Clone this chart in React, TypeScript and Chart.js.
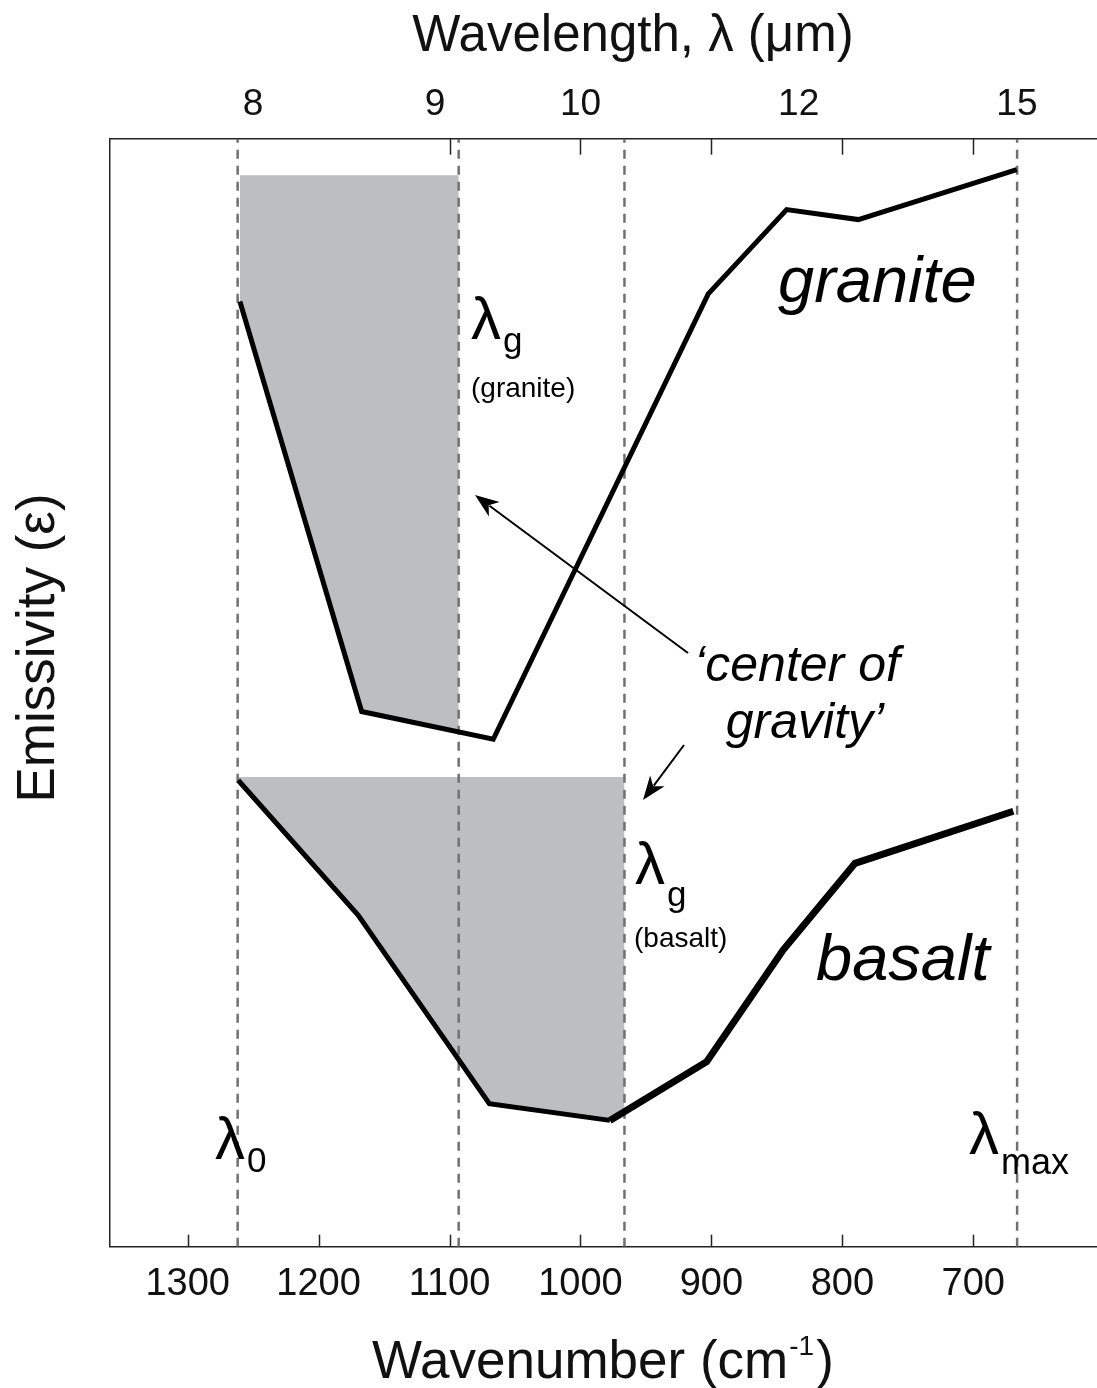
import React, { useEffect, useRef } from "react";
import { Chart, registerables } from "chart.js";

Chart.register(...registerables);

// ---- data ----
const bottomTicks = [1300, 1200, 1100, 1000, 900, 800, 700];
const topInnerTicks = [1100, 1000, 900, 800, 700];
const wavelengthTicks = [8, 9, 10, 12, 15];

const graniteWavenumber = [1260.1, 1167.1, 1066.6, 902.4, 842.5, 787.8, 666.8];
const graniteEmissivity = [0.853, 0.483, 0.458, 0.86, 0.936, 0.927, 0.972];

const basaltWavenumber = [1261.4, 1169.7, 1069.6, 977.5, 903.6, 845.1, 790.3, 669.4];
const basaltEmissivity = [0.421, 0.299, 0.129, 0.114, 0.167, 0.268, 0.346, 0.393];

const graniteAreaWavenumber = [1260.1, 1167.1, 1093.0];
const graniteAreaEmissivity = [0.853, 0.483, 0.465];
const graniteAreaTop = 0.967;

const basaltAreaWavenumber = [1261.4, 1169.7, 1069.6, 977.5, 966.4];
const basaltAreaEmissivity = [0.421, 0.299, 0.129, 0.114, 0.121];
const basaltAreaTop = 0.424;

// λ0, λg (granite), λg (basalt), λmax
const markerWavenumbers = [1261.8, 1093.0, 966.4, 666.5];

const xMin = 605.5;
const xMax = 1359.3;

const FONT = "'Liberation Sans', Arial, Helvetica, sans-serif";
const FILL = "#bcbec0";
const AXIS = "#222";

function pts(xs: number[], ys: number[]) {
  return xs.map((x, i) => ({ x, y: ys[i] }));
}

function arrow(ctx: CanvasRenderingContext2D, x0: number, y0: number, x1: number, y1: number) {
  const ang = Math.atan2(y1 - y0, x1 - x0);
  const L = 24, W = 9;
  ctx.beginPath();
  ctx.moveTo(x0, y0);
  ctx.lineTo(x1 - Math.cos(ang) * (L - 6), y1 - Math.sin(ang) * (L - 6));
  ctx.stroke();
  ctx.beginPath();
  ctx.moveTo(x1, y1);
  const bx = x1 - Math.cos(ang) * L, by = y1 - Math.sin(ang) * L;
  const nx = -Math.sin(ang), ny = Math.cos(ang);
  ctx.lineTo(bx + nx * W, by + ny * W);
  ctx.lineTo(x1 - Math.cos(ang) * (L - 7), y1 - Math.sin(ang) * (L - 7));
  ctx.lineTo(bx - nx * W, by - ny * W);
  ctx.closePath();
  ctx.fill();
}

function sub(
  ctx: CanvasRenderingContext2D,
  main: string, subText: string,
  x: number, yMain: number, ySub: number,
  mainSize: number, subSize: number, gap = 0
) {
  ctx.textAlign = "left";
  ctx.textBaseline = "alphabetic";
  ctx.font = `${mainSize}px ${FONT}`;
  ctx.fillText(main, x, yMain);
  const w = ctx.measureText(main).width;
  ctx.font = `${subSize}px ${FONT}`;
  ctx.fillText(subText, x + w + gap, ySub);
}

const overlay = {
  id: "overlay",
  afterDraw(chart: any) {
    const { ctx, chartArea: a, scales } = chart;
    const xs = scales.x;
    ctx.save();
    // inward tick marks
    ctx.strokeStyle = AXIS;
    ctx.lineWidth = 1.5;
    bottomTicks.forEach((v) => {
      const px = Math.round(xs.getPixelForValue(v)) + 0.5;
      ctx.beginPath();
      ctx.moveTo(px, a.bottom);
      ctx.lineTo(px, a.bottom - 12);
      ctx.stroke();
    });
    topInnerTicks.forEach((v) => {
      const px = Math.round(xs.getPixelForValue(v)) + 0.5;
      ctx.beginPath();
      ctx.moveTo(px, a.top);
      ctx.lineTo(px, a.top + 16);
      ctx.stroke();
    });

    ctx.fillStyle = "#111";
    // axis titles
    ctx.textBaseline = "alphabetic";
    ctx.textAlign = "center";
    ctx.font = `51px ${FONT}`;
    ctx.fillText("Wavelength, λ (μm)", 633, 51);

    ctx.textAlign = "left";
    ctx.font = `53px ${FONT}`;
    const t1 = "Wavenumber (cm";
    const w1 = ctx.measureText(t1).width;
    const startX = 372;
    ctx.fillText(t1, startX, 1378);
    ctx.font = `28px ${FONT}`;
    ctx.fillText("-1", startX + w1 + 1, 1355);
    const w2 = ctx.measureText("-1").width;
    ctx.font = `53px ${FONT}`;
    ctx.fillText(")", startX + w1 + w2 + 3, 1378);

    ctx.save();
    ctx.translate(54, 648);
    ctx.rotate(-Math.PI / 2);
    ctx.textAlign = "center";
    ctx.font = `53px ${FONT}`;
    ctx.fillText("Emissivity (ε)", 0, 0);
    ctx.restore();

    // curve labels
    ctx.textAlign = "left";
    ctx.font = `italic 65px ${FONT}`;
    ctx.fillStyle = "#000";
    ctx.fillText("granite", 778, 302);
    ctx.fillText("basalt", 816, 980);

    // lambda labels
    sub(ctx, "λ", "g", 471, 339, 352, 60, 35, 2);
    ctx.font = `28px ${FONT}`;
    ctx.fillText("(granite)", 471, 397);
    sub(ctx, "λ", "g", 635, 884, 906, 60, 35, 2);
    ctx.font = `28px ${FONT}`;
    ctx.fillText("(basalt)", 634, 947);
    sub(ctx, "λ", "0", 215, 1159, 1172, 60, 35, 2);
    sub(ctx, "λ", "max", 969, 1154, 1174, 60, 36, 2);

    // center of gravity
    ctx.textAlign = "center";
    ctx.font = `italic 50px ${FONT}`;
    ctx.fillText("‘center of", 797, 681);
    ctx.fillText("gravity’", 805, 738);

    ctx.strokeStyle = "#000";
    ctx.fillStyle = "#000";
    ctx.lineWidth = 2;
    arrow(ctx, 688, 653, 475, 495);
    arrow(ctx, 684, 745, 643, 800);
    ctx.restore();
  },
};

export default function App() {
  const ref = useRef<HTMLCanvasElement>(null);
  useEffect(() => {
    document.body.style.margin = "0";
    const canvas = ref.current!;
    const markerSets = markerWavenumbers.map((w) => ({
      label: "marker",
      data: [
        { x: w, y: 0 },
        { x: w, y: 1 },
      ],
      borderColor: "#707070",
      borderWidth: 2.5,
      borderDash: [9, 7],
      pointRadius: 0,
      fill: false,
      order: 2,
    }));
    const chart = new Chart(canvas, {
      type: "line",
      data: {
        datasets: [
          {
            label: "granite area",
            data: pts(graniteAreaWavenumber, graniteAreaEmissivity),
            borderColor: "rgba(0,0,0,0)",
            borderWidth: 1,
            backgroundColor: FILL,
            pointRadius: 0,
            fill: { value: graniteAreaTop },
            order: 3,
          },
          {
            label: "basalt area",
            data: pts(basaltAreaWavenumber, basaltAreaEmissivity),
            borderColor: "rgba(0,0,0,0)",
            borderWidth: 1,
            backgroundColor: FILL,
            pointRadius: 0,
            fill: { value: basaltAreaTop },
            order: 3,
          },
          ...markerSets,
          {
            label: "granite",
            data: pts(graniteWavenumber, graniteEmissivity),
            borderColor: "#000",
            borderWidth: 5,
            borderJoinStyle: "miter",
            pointRadius: 0,
            fill: false,
            order: 1,
          },
          {
            label: "basalt",
            data: pts(basaltWavenumber, basaltEmissivity),
            borderColor: "#000",
            borderWidth: 5,
            borderJoinStyle: "miter",
            segment: {
              borderWidth: (c: any) => (c.p0DataIndex >= 3 ? 7 : 5),
            },
            pointRadius: 0,
            fill: false,
            order: 1,
          },
        ] as any,
      },
      options: {
        responsive: false,
        animation: false,
        devicePixelRatio: 1,
        layout: { padding: 0 },
        plugins: {
          legend: { display: false },
          tooltip: { enabled: false },
        },
        scales: {
          x: {
            type: "linear",
            position: "bottom",
            reverse: true,
            min: xMin,
            max: xMax,
            grid: { display: false, drawTicks: false },
            border: { display: true, color: AXIS, width: 1.5 },
            afterBuildTicks: (s: any) => {
              s.ticks = bottomTicks.map((v) => ({ value: v }));
            },
            afterFit: (s: any) => {
              s.height = 141.3;
            },
            ticks: {
              padding: 15,
              color: "#111",
              font: { family: FONT, size: 38 },
              maxRotation: 0,
              autoSkip: false,
              callback: (v: any) => String(v),
            },
          },
          x2: {
            type: "linear",
            axis: "x",
            position: "top",
            reverse: true,
            min: xMin,
            max: xMax,
            grid: { display: false, drawTicks: false },
            border: { display: true, color: AXIS, width: 1.5 },
            afterBuildTicks: (s: any) => {
              s.ticks = wavelengthTicks.map((l) => ({ value: 10000 / l }));
            },
            afterFit: (s: any) => {
              s.height = 138.7;
            },
            ticks: {
              padding: 12,
              color: "#111",
              font: { family: FONT, size: 37 },
              maxRotation: 0,
              autoSkip: false,
              callback: (v: any) => String(Math.round(10000 / Number(v))),
            },
          },
          y: {
            type: "linear",
            position: "left",
            min: 0,
            max: 1,
            grid: { display: false, drawTicks: false },
            border: { display: true, color: AXIS, width: 1.5 },
            ticks: { display: false },
            afterFit: (s: any) => {
              s.width = 110;
            },
          },
        },
      } as any,
      plugins: [overlay],
    });
    return () => chart.destroy();
  }, []);
  return (
    <div style={{ position: "absolute", left: 0, top: 0, width: 1097, height: 1388, background: "#fff" }}>
      <canvas ref={ref} width={1097} height={1388} />
    </div>
  );
}
